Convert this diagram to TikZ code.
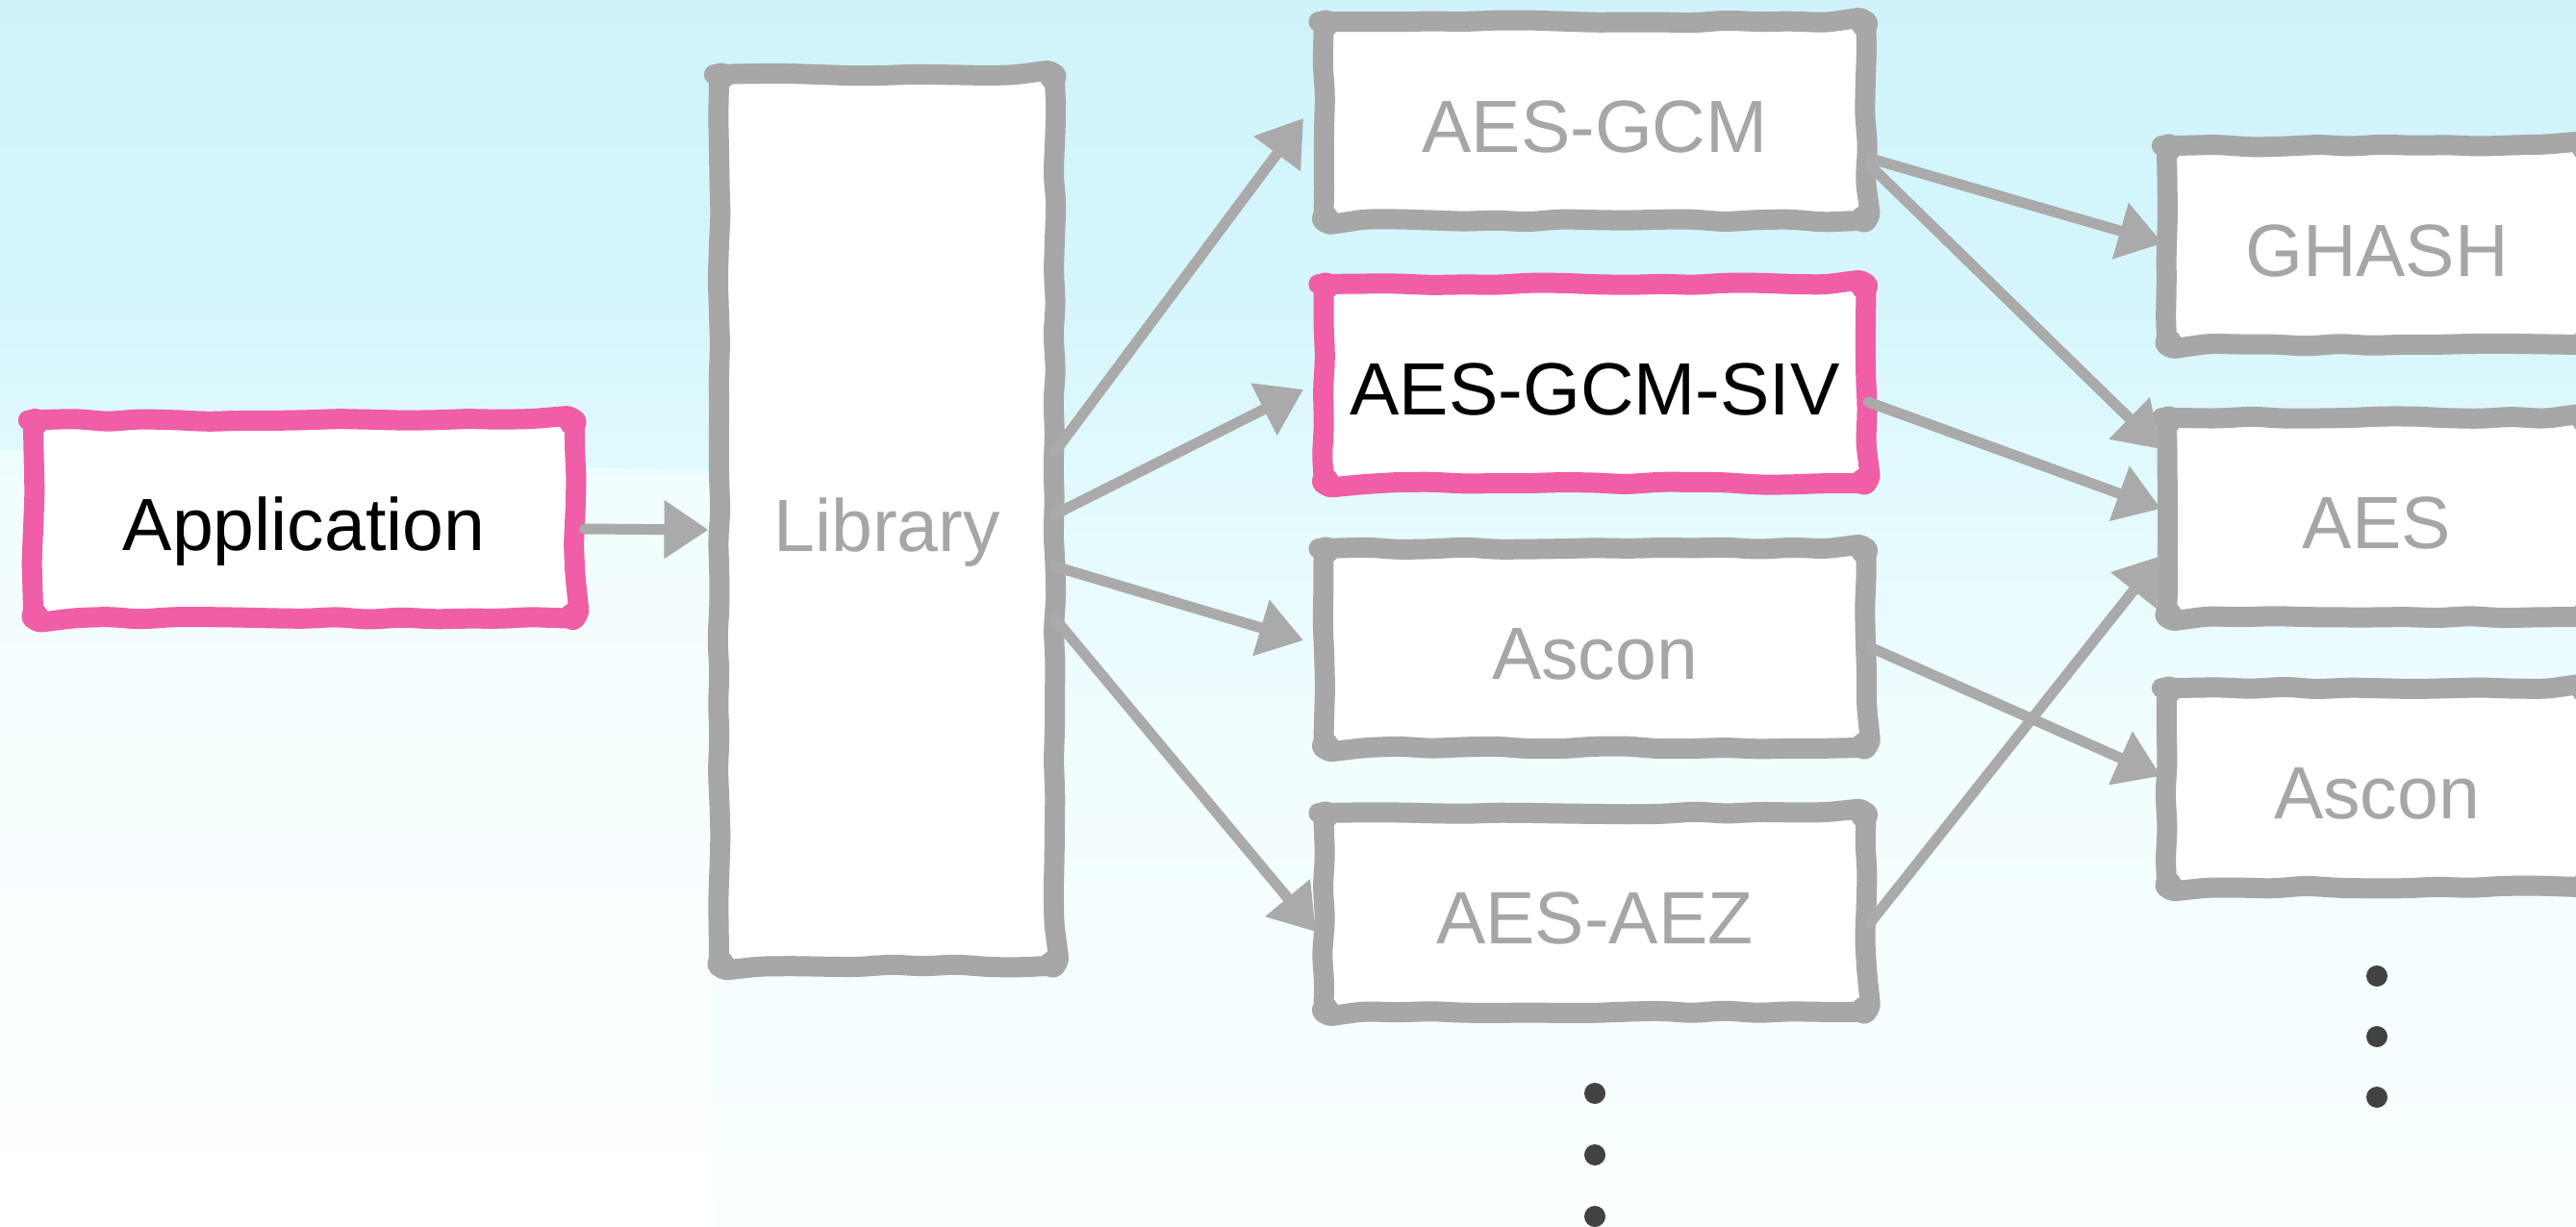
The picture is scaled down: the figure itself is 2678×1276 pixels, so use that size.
\documentclass[tikz,border=0pt]{standalone}
\usepackage{fontspec}
\setmainfont{Liberation Sans}
\usetikzlibrary{arrows.meta,calc,decorations.pathmorphing}

\definecolor{boxgray}{RGB}{167,167,167}
\definecolor{labelgray}{RGB}{166,166,166}
\definecolor{hotpink}{RGB}{239,94,166}
\definecolor{dotgray}{RGB}{66,66,66}
\definecolor{arrowgray}{RGB}{170,170,170}
\definecolor{skya}{RGB}{208,243,251}
\definecolor{skyb}{RGB}{213,246,252}
\definecolor{skyc}{RGB}{226,250,253}
\definecolor{skyd}{RGB}{241,253,254}
\definecolor{skye}{RGB}{250,255,255}
\definecolor{paleleft}{RGB}{240,253,254}

% pale sky fading to white towards the bottom
\pgfdeclareverticalshading{skyfade}{100bp}{color(0bp)=(skye); color(25bp)=(skye); color(45bp)=(skyd); color(55bp)=(skyc); color(63bp)=(skyb); color(75bp)=(skya); color(100bp)=(skya)}
\pgfdeclareverticalshading{leftfade}{100bp}{color(0bp)=(white); color(25bp)=(white); color(75bp)=(paleleft); color(100bp)=(paleleft)}

\pgfmathsetseed{12}

\begin{document}
\begin{tikzpicture}[x=1pt, y=-1pt,
  card/.style={fill=white, rectangle, outer sep=0pt, inner sep=0pt, text=labelgray,
    font=\fontsize{77}{90}\selectfont, text height=65pt, text depth=0pt},
  hotcard/.style={card, text=black},
  midcard/.style={minimum width=564pt, minimum height=207pt},
  sidecard/.style={minimum width=437pt, minimum height=207pt},
  frame/.style={draw=#1, line width=21pt, line join=round, line cap=round,
    rounded corners=9pt, decorate,
    decoration={random steps, segment length=34pt, amplitude=1.6pt}},
  wire/.style={draw=arrowgray, line width=11pt, line cap=round,
    -{Triangle[length=46pt, width=58pt]}},
  ellip/.style={circle, fill=dotgray, minimum size=22pt, inner sep=0pt, outer sep=0pt}
]
\clip (0,0) rectangle (2678,1276);
\useasboundingbox (0,0) rectangle (2678,1276);
\shade[shading=skyfade] (0,0) rectangle (2678,1276);
% lighter wash on the lower left
\shade[shading=leftfade] (0,468) -- (740,490) -- (740,1276) -- (0,1276) -- cycle;

% boxes
\node[hotcard, minimum width=563pt, minimum height=206pt] (app) at (316,540) {Application};
\node[card, minimum width=349pt, minimum height=927pt] (lib) at (922,541) {Library};

\node[card, midcard] (gcm) at (1658,126) {AES-GCM};
\node[hotcard, midcard] (siv) at (1658,399) {AES-GCM-SIV};
\node[card, midcard] (asc) at (1658,674) {Ascon};
\node[card, midcard] (aez) at (1658,949) {AES-AEZ};

\node[card, sidecard] (ghash) at (2471,255) {GHASH};
\node[card, sidecard] (aes) at (2471,538) {AES};
\node[card, sidecard] (rasc) at (2471,819) {Ascon};

% hand-drawn frames with thickened corners
\foreach \n/\c in {app/hotpink, lib/boxgray, gcm/boxgray, siv/hotpink, asc/boxgray,
                   aez/boxgray, ghash/boxgray, aes/boxgray, rasc/boxgray}{
  \draw[frame=\c] (\n.north west) rectangle (\n.south east);
  \fill[\c] ($(\n.north west)+(2,2)$) circle[radius=14pt];
  \fill[\c] ($(\n.north east)+(-2,2)$) circle[radius=14pt];
  \fill[\c] ($(\n.south west)+(2,-2)$) circle[radius=14pt];
  \fill[\c] ($(\n.south east)+(-2,-2)$) circle[radius=14pt];
}

% connectors
\draw[wire] ($(app.east)+(10,10)$) -- ($(lib.west)+(-11,10)$);

\draw[wire] ($(lib.east)+(0,-71)$) -- ($(gcm.west)+(-21,-3)$);
\draw[wire] ($(lib.east)+(0,-6)$)  -- ($(siv.west)+(-21,6)$);
\draw[wire] ($(lib.east)+(0,48)$)  -- ($(asc.west)+(-21,-8)$);
\draw[wire] ($(lib.east)+(0,102)$) -- ($(aez.west)+(-8,20)$);

\draw[wire] ($(gcm.east)+(5,39)$)  -- ($(ghash.west)+(-4,-2)$);
\draw[wire] ($(gcm.east)+(5,47)$)  -- ($(aes.west)+(-6,-71)$);
\draw[wire] ($(siv.east)+(2,19)$)  -- ($(aes.west)+(-6,-9)$);
\draw[wire] ($(asc.east)+(4,-1)$)  -- ($(rasc.west)+(-6,-12)$);
\draw[wire] ($(aez.east)+(4,11)$)  -- ($(aes.west)+(-6,40)$);

% continuation dots
\node[ellip] (m1) at (1658,1137) {};
\node[ellip] (m2) at (1658,1201) {};
\node[ellip] (m3) at (1658,1265) {};
\node[ellip] (r1) at (2471,1015) {};
\node[ellip] (r2) at (2471,1078) {};
\node[ellip] (r3) at (2471,1141) {};
\end{tikzpicture}
\end{document}
